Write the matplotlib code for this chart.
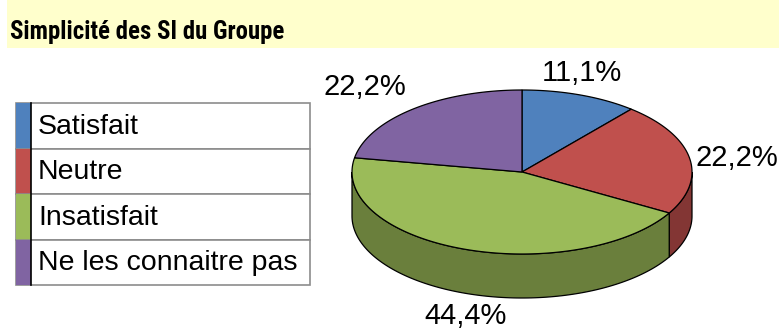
import numpy as np
import matplotlib
matplotlib.use("Agg")
import matplotlib.pyplot as plt
from matplotlib.patches import Polygon, Rectangle

title = "Simplicité des SI du Groupe"
categories = ["Satisfait", "Neutre", "Insatisfait", "Ne les connaitre pas"]
shares = [11.1, 22.2, 44.4, 22.2]
top_colors = ["#4F81BD", "#C0504D", "#9BBB59", "#8064A2"]
side_colors = ["#3A5F8C", "#833634", "#6A7F3C", "#5B4775"]

W, H = 779, 330
fig = plt.figure(figsize=(W / 100, H / 100), dpi=100)
ax = fig.add_axes([0, 0, 1, 1])
ax.set_xlim(0, W)
ax.set_ylim(H, 0)
ax.axis("off")

# title band
ax.add_patch(Rectangle((7, 0), W - 7, 48, facecolor="#FFFFCC", edgecolor="none"))
ax.text(10, 39, title, fontsize=17.8, fontweight="bold", family="Roboto Condensed",
        va="baseline", ha="left")

# legend table
rows = np.linspace(103, 285, len(categories) + 1)
for i, (name, col) in enumerate(zip(categories, top_colors)):
    y0, y1 = rows[i], rows[i + 1]
    ax.add_patch(Rectangle((16, y0), 294, y1 - y0, facecolor="white",
                           edgecolor="#8C8C8C", lw=1.2))
    ax.add_patch(Rectangle((16, y0), 15, y1 - y0, facecolor=col, edgecolor="none"))
    ax.text(38, (y0 + y1) / 2 + 1, name, fontsize=20.5, family="Liberation Sans",
            va="center", ha="left")
ax.plot([31, 31], [rows[0], rows[-1]], color="black", lw=1.2)

# 3D pie geometry (pixels)
cx, cy, a, b, depth = 522, 172, 170, 82, 44


def pt(theta, dy=0):
    return cx + a * np.cos(theta), cy - b * np.sin(theta) + dy


fracs = np.array(shares) / np.sum(shares)
starts = np.pi / 2 - 2 * np.pi * np.concatenate([[0], np.cumsum(fracs)[:-1]])
ends = starts - 2 * np.pi * fracs

# side walls on the front half of the disc
for s, e, col in zip(starts, ends, side_colors):
    lo, hi = max(e, -np.pi), min(s, 0.0)
    if hi <= lo:
        continue
    t = np.linspace(hi, lo, 120)
    xs, ys = pt(t)
    xb, yb = pt(t[::-1], depth)
    poly = np.column_stack([np.concatenate([xs, xb]), np.concatenate([ys, yb])])
    ax.add_patch(Polygon(poly, closed=True, facecolor=col, edgecolor="black", lw=0.9))

# top faces
for s, e, col in zip(starts, ends, top_colors):
    t = np.linspace(s, e, 200)
    xs, ys = pt(t)
    poly = np.column_stack([np.concatenate([[cx], xs]), np.concatenate([[cy], ys])])
    ax.add_patch(Polygon(poly, closed=True, facecolor=col, edgecolor="black", lw=0.9))

# percentage labels outside each slice
for s, e, v in zip(starts, ends, shares):
    m = (s + e) / 2
    c, sn = np.cos(m), np.sin(m)
    x, y = pt(m, depth if sn < 0 else 0)
    ha = "left" if c > 0.5 else ("right" if c < -0.5 else "center")
    va = "bottom" if sn > 0.3 else ("top" if sn < -0.3 else "center")
    dx = 6 if ha == "left" else (-6 if ha == "right" else 2)
    dy = -8 if va == "bottom" else (9 if va == "top" else 0)
    ax.text(x + dx, y + dy, f"{v:.1f}%".replace(".", ","), fontsize=21,
            family="Liberation Sans", ha=ha, va=va)

fig.savefig("out.png", dpi=100)
